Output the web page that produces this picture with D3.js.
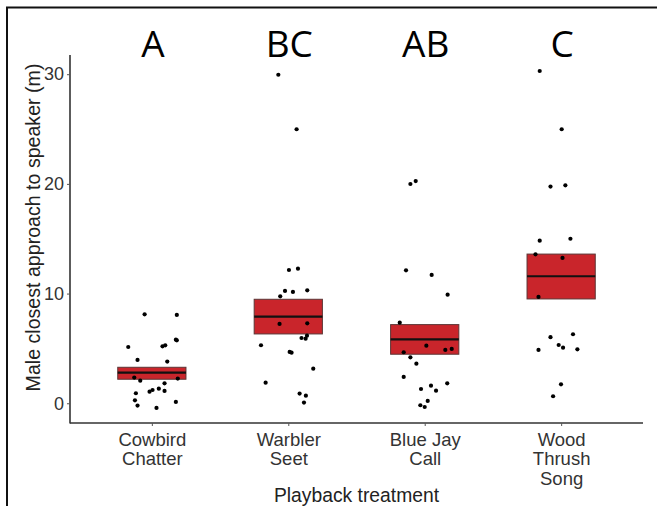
<!DOCTYPE html>
<html>
<head>
<meta charset="utf-8">
<script src="https://cdn.jsdelivr.net/npm/d3@7"></script>
<style>
  body { margin: 0; background: #fff; }
  svg { display: block; }
</style>
</head>
<body>
<svg id="chart" width="657" height="506"></svg>
<script>
// treatments and significance letters
var treatments = ["Cowbird Chatter", "Warbler Seet", "Blue Jay Call", "Wood Thrush Song"];
var tickLines = [["Cowbird", "Chatter"], ["Warbler", "Seet"], ["Blue Jay", "Call"], ["Wood", "Thrush", "Song"]];
var letters = ["A", "BC", "AB", "C"];

// crossbar: mean with lower / upper
var means = [2.79, 7.90, 5.83, 11.58];
var lows = [2.19, 6.32, 4.47, 9.51];
var highs = [3.28, 9.48, 7.17, 13.60];

// raw points (closest approach, m) and their jitter (in category units)
var cowbirdVals = [8.11, 8.05, 5.80, 5.74, 5.13, 5.19, 5.28, 3.95, 3.80, 2.34, 2.06, 2.25, 1.82, 0.91, 1.06, 1.21, 1.33, 1.12, 0.27, -0.21, -0.43, 0.12];
var cowbirdJit = [-0.053, 0.183, 0.176, 0.183, -0.173, 0.078, 0.098, -0.105, 0.113, -0.129, -0.085, 0.19, 0.093, -0.117, -0.017, 0.005, 0.051, 0.093, -0.124, -0.105, 0.034, 0.176];
var warblerVals = [29.95, 24.98, 12.15, 12.27, 9.75, 10.24, 10.15, 10.30, 7.23, 7.29, 5.95, 5.89, 6.16, 5.29, 4.68, 4.61, 3.15, 1.88, 0.88, 0.69, 0.06];
var warblerJit = [-0.073, 0.061, 0.005, 0.071, -0.059, -0.024, 0.034, 0.139, -0.064, 0.139, 0.097, 0.127, 0.137, -0.2, 0.01, 0.024, 0.183, -0.166, 0.083, 0.129, 0.115];
var blueJayVals = [19.99, 20.26, 12.12, 11.70, 9.90, 7.35, 5.25, 4.86, 4.95, 4.65, 4.19, 3.61, 2.40, 1.30, 1.60, 1.15, 1.82, 0.21, -0.18, -0.34];
var blueJayJit = [-0.105, -0.066, -0.137, 0.051, 0.168, -0.183, 0.012, 0.151, 0.198, -0.154, -0.105, -0.061, -0.154, -0.027, 0.046, 0.083, 0.165, 0.022, -0.032, 0];
var woodVals = [30.29, 24.98, 19.75, 19.87, 14.82, 15.00, 13.58, 13.25, 9.69, 6.02, 6.29, 5.31, 5.07, 4.86, 4.92, 1.73, 0.64];
var woodJit = [-0.157, 0.004, -0.078, 0.031, -0.157, 0.068, -0.188, 0.01, -0.166, -0.078, 0.087, -0.018, 0.014, -0.166, 0.119, -0.001, -0.059];

var yTicks = [0, 10, 20, 30];

var svg = d3.select("#chart");

// frame around the figure (top and left edge)
svg.append("path")
  .attr("d", "M7,657 L7,7.5 L657,7.5")
  .attr("fill", "none")
  .attr("stroke", "#111")
  .attr("stroke-width", 2);

var margin = {left: 70, right: 14, top: 55, bottom: 83};
var width = 657 - margin.left - margin.right,
    height = 506 - margin.top - margin.bottom;

var g = svg.append("g").attr("transform", "translate(" + margin.left + "," + margin.top + ")");

// ggplot-like discrete scale: 0.6 units padding each side
var x = d3.scalePoint().domain(treatments).range([width * 0.6 / 4.2, width * 3.6 / 4.2]);
var unit = x.step();
var y = d3.scaleLinear().domain([-1.8, 31.75]).range([height, 0]);

var groups = [
  {vals: cowbirdVals, jit: cowbirdJit},
  {vals: warblerVals, jit: warblerJit},
  {vals: blueJayVals, jit: blueJayJit},
  {vals: woodVals, jit: woodJit}
];

var boxW = 0.5 * unit;

// boxes
treatments.forEach(function(t, i) {
  var cx = x(t);
  g.append("rect")
    .attr("x", cx - boxW / 2)
    .attr("y", y(highs[i]))
    .attr("width", boxW)
    .attr("height", y(lows[i]) - y(highs[i]))
    .attr("fill", "#c9252b")
    .attr("stroke", "#5b3535")
    .attr("stroke-width", 1);
  g.append("line")
    .attr("x1", cx - boxW / 2).attr("x2", cx + boxW / 2)
    .attr("y1", y(means[i])).attr("y2", y(means[i]))
    .attr("stroke", "#111")
    .attr("stroke-width", 2.2);
});

// points
groups.forEach(function(grp, i) {
  var cx = x(treatments[i]);
  g.append("g").selectAll("circle")
    .data(grp.vals)
    .enter().append("circle")
      .attr("cx", function(d, j) { return cx + grp.jit[j] * unit; })
      .attr("cy", function(d) { return y(d); })
      .attr("r", 2.1)
      .attr("fill", "#000");
});

// letters above
g.selectAll(".letter")
  .data(letters)
  .enter().append("text")
    .attr("class", "letter")
    .attr("x", function(d, i) { return x(treatments[i]) + 1; })
    .attr("y", 57 - margin.top)
    .attr("text-anchor", "middle")
    .attr("font-family", "Open Sans, sans-serif")
    .attr("font-size", 37)
    .attr("fill", "#000")
    .text(function(d) { return d; });

// y axis
var yAxis = g.append("g")
  .call(d3.axisLeft(y).tickValues(yTicks).tickSize(3).tickPadding(3));
yAxis.select(".domain").attr("stroke", "#333").attr("stroke-width", 1.6)
  .attr("d", "M0," + (height + 0.5) + "V0");
yAxis.selectAll(".tick line").attr("stroke", "#555");
yAxis.selectAll(".tick text")
  .attr("font-family", "Liberation Sans, Arial, sans-serif")
  .attr("font-size", 18)
  .attr("fill", "#333");

// x axis
var xAxis = g.append("g")
  .attr("transform", "translate(0," + height + ")")
  .call(d3.axisBottom(x).tickSize(3).tickFormat(""));
xAxis.select(".domain").attr("stroke", "#333").attr("stroke-width", 1.6)
  .attr("d", "M0,0H" + width);
xAxis.selectAll(".tick line").attr("stroke", "#555");

xAxis.selectAll(".tick").each(function(d, i) {
  var t = d3.select(this).append("text")
    .attr("text-anchor", "middle")
    .attr("font-family", "Liberation Sans, Arial, sans-serif")
    .attr("font-size", 18.5)
    .attr("fill", "#333");
  tickLines[i].forEach(function(line, k) {
    t.append("tspan").attr("x", 0).attr("y", 22.5 + k * 19.5).text(line);
  });
});

// axis titles
g.append("text")
  .attr("x", width / 2)
  .attr("y", 501.5 - margin.top)
  .attr("text-anchor", "middle")
  .attr("font-family", "Liberation Sans, Arial, sans-serif")
  .attr("font-size", 19.3)
  .attr("fill", "#222")
  .text("Playback treatment");

svg.append("text")
  .attr("transform", "translate(40," + 227.5 + ") rotate(-90)")
  .attr("text-anchor", "middle")
  .attr("font-family", "Liberation Sans, Arial, sans-serif")
  .attr("font-size", 19.6)
  .attr("fill", "#222")
  .text("Male closest approach to speaker (m)");
</script>
</body>
</html>
